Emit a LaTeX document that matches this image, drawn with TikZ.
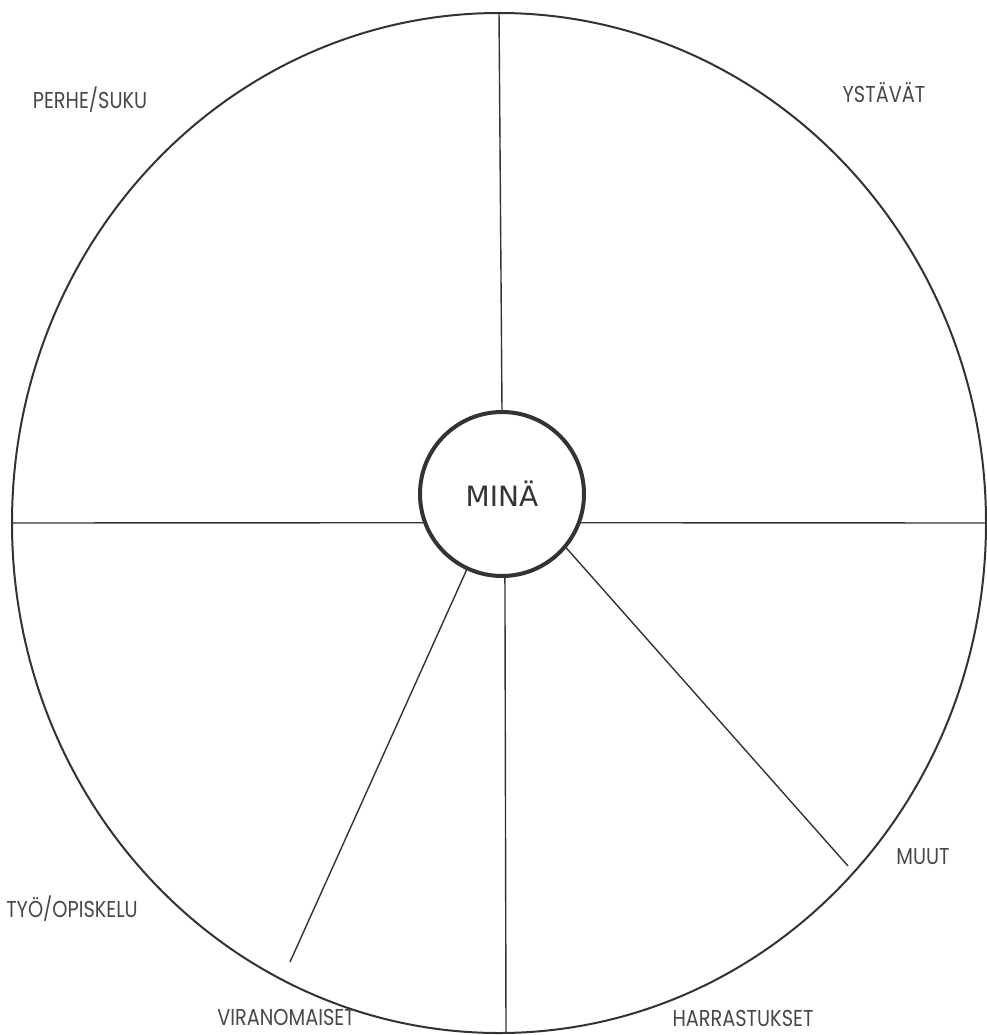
\documentclass[tikz,border=0pt]{standalone}
\usepackage{fontspec}
\setmainfont{Poppins}
\newfontfamily\minafont{DejaVu Sans}
\usetikzlibrary{shapes.geometric}
\definecolor{ink}{HTML}{333333}
\definecolor{labelink}{HTML}{484848}
\begin{document}
\begin{tikzpicture}[x=1pt,y=1pt,
  rim/.style={draw=ink,line width=2pt,ellipse,minimum width=974pt,minimum height=1020pt,inner sep=0pt},
  hub/.style={draw=ink,line width=4pt,circle,minimum size=164pt,inner sep=0pt,font=\minafont\fontsize{28}{32}\selectfont,text=ink},
  spoke/.style={draw=ink,line width=1.4pt},
  sector/.style={font=\fontsize{23}{26}\selectfont,text=labelink,inner sep=0pt,xscale=0.84}]
\useasboundingbox (0,0) rectangle (986,-1035);
\node[rim] (outer) at (499,-523) {};
\node[hub] (me) at (502,-494) {MINÄ};
\coordinate (bot) at (506,-1033);
\coordinate (vend) at (290,-962);
\coordinate (mend) at (848,-866);
\draw[spoke] (outer.north) -- (me.north);
\draw[spoke] (me.-88) -- (bot);
\draw[spoke] (outer.west) -- (me.200);
\draw[spoke] (me.-20) -- (outer.east);
\draw[spoke] (me.-115) -- (vend);
\draw[spoke] (me.-40) -- (mend);
\node[sector] (perhe) at (90,-100) {PERHE/SUKU};
\node[sector] (ystavat) at (884,-93) {YSTÄVÄT};
\node[sector] (tyo) at (72,-909) {TYÖ/OPISKELU};
\node[sector] (muut) at (923,-857) {MUUT};
\node[sector] (viran) at (286,-1017) {VIRANOMAISET};
\node[sector] (harr) at (743,-1018) {HARRASTUKSET};
\end{tikzpicture}
\end{document}
